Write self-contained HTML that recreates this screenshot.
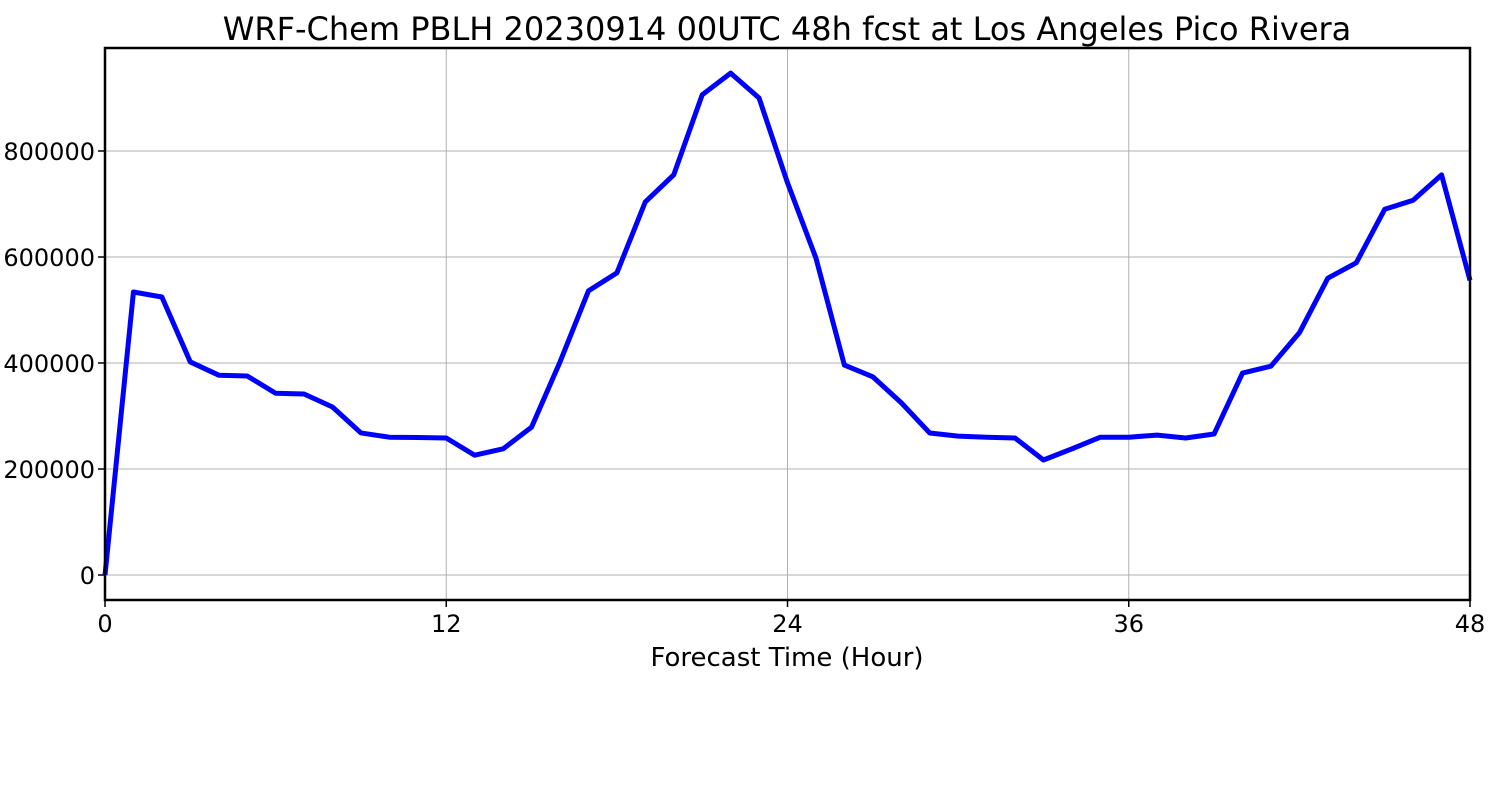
<!DOCTYPE html>
<html><head><meta charset="utf-8"><style>
body{margin:0;background:#fff;width:1500px;height:800px;overflow:hidden}
svg{font-family:"DejaVu Sans","Liberation Sans",sans-serif}
</style></head><body>
<svg id="chart" width="1500" height="800" viewBox="0 0 1500 800">
<text x="787" y="40" font-size="32" text-anchor="middle">WRF-Chem PBLH  20230914 00UTC 48h fcst at Los Angeles Pico Rivera</text>
<g id="grid"></g>
<g id="ticks"></g>
<polyline id="line" fill="none" stroke="#0000ff" stroke-width="5" stroke-linejoin="round"/>
<rect x="105" y="48" width="1365" height="552" fill="none" stroke="#000" stroke-width="2.5"/>
<text x="787" y="666" font-size="26" text-anchor="middle">Forecast Time (Hour)</text>
</svg>
<script>
const hours=[...Array(49).keys()];
const pblh=[0,534000,524500,402000,377000,375500,343000,341500,317000,268000,260000,259500,258500,226000,238000,279000,402000,536000,570000,704000,755000,906000,947000,900000,740000,598000,396000,374000,325000,268000,262000,260000,258500,217000,238000,260000,260000,264000,258500,266000,381000,394000,457000,560000,589000,690000,707000,755000,556000];
const xTicks=[0,12,24,36,48];
const yTicks=[0,200000,400000,600000,800000];
const X0=105,X1=1470,Y0=575,YPX=106/200000;
const xs=h=>X0+(h/48)*(X1-X0);
const ys=v=>Y0-v*YPX;
const NS="http://www.w3.org/2000/svg";
const grid=document.getElementById('grid'),ticks=document.getElementById('ticks');
function mk(t,a,p){const e=document.createElementNS(NS,t);for(const k in a)e.setAttribute(k,a[k]);p.appendChild(e);return e;}
xTicks.forEach(t=>{
 const g=mk('line',{x1:xs(t),x2:xs(t),y1:48,y2:600,stroke:'#b0b0b0','stroke-width':1},grid);
 
 
 const tk=mk('line',{x1:xs(t),x2:xs(t),y1:600,y2:607,stroke:'#000','stroke-width':1.5},ticks);
 
 
 const l=mk('text',{x:xs(t),y:632,'font-size':24,'text-anchor':'middle'},ticks);
 l.textContent=t;
 
 
});
yTicks.forEach(t=>{
 const g=mk('line',{x1:105,x2:1470,y1:ys(t),y2:ys(t),stroke:'#b0b0b0','stroke-width':1},grid);
 
 
 const tk=mk('line',{x1:98,x2:105,y1:ys(t),y2:ys(t),stroke:'#000','stroke-width':1.5},ticks);
 
 
 const l=mk('text',{x:95,y:ys(t)+9,'font-size':24,'text-anchor':'end'},ticks);
 l.textContent=t;
 
 
});
document.getElementById('line').setAttribute('points',hours.map((h,i)=>xs(h)+','+ys(pblh[i])).join(' '));
</script>
</body></html>
